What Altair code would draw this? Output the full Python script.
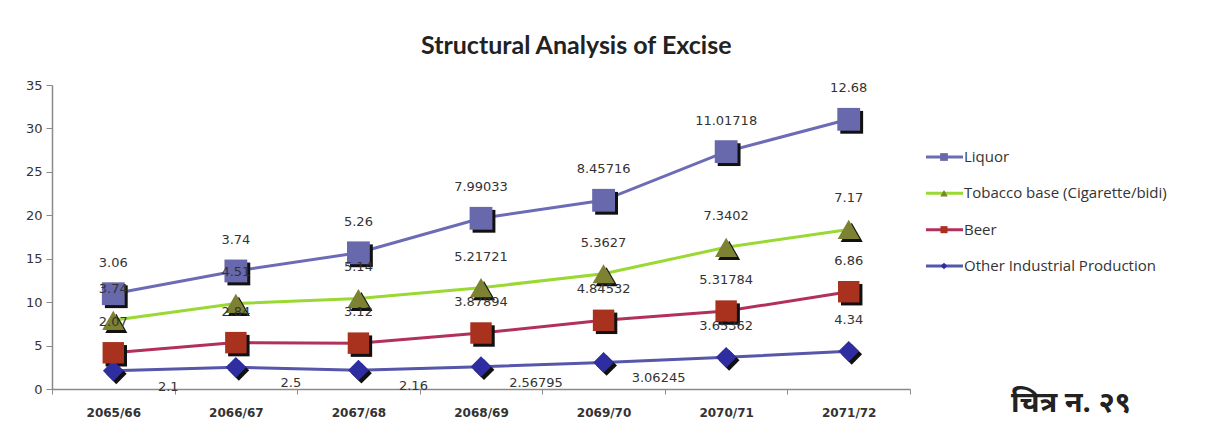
import altair as alt
import pandas as pd

years = ["2065/66", "2066/67", "2067/68", "2068/69", "2069/70", "2070/71", "2071/72"]
other = [2.1, 2.5, 2.16, 2.56795, 3.06245, 3.65362, 4.34]
beer = [2.07, 2.84, 3.12, 3.87894, 4.84532, 5.31784, 6.86]
tobacco = [3.74, 4.51, 5.14, 5.21721, 5.3627, 7.3402, 7.17]
liquor = [3.06, 3.74, 5.26, 7.99033, 8.45716, 11.01718, 12.68]

series_names = ["Other Industrial Production", "Beer", "Tobacco base (Cigarette/bidi)", "Liquor"]
series_values = [other, beer, tobacco, liquor]
legend_order = ["Liquor", "Tobacco base (Cigarette/bidi)", "Beer", "Other Industrial Production"]

line_colors = ["#5656AA", "#B2305C", "#9AD832", "#6C6CB6"]
marker_colors = ["#2E2EA2", "#A8321E", "#7C8232", "#6868AC"]
shapes = ["diamond", "square", "triangle-up", "square"]
caption = "चित्र न. २९"

PLOT_W = 858
STEP = PLOT_W / len(years)

rows = []
for si, (name, vals) in enumerate(zip(series_names, series_values)):
    for j, (yr, v) in enumerate(zip(years, vals)):
        rows.append({"year": yr, "series": name, "value": v, "label": str(v), "order": si, "idx": j})
df = pd.DataFrame(rows)

color_sc = alt.Scale(domain=series_names, range=line_colors)
fill_sc = alt.Scale(domain=series_names, range=marker_colors)
shape_sc = alt.Scale(domain=series_names, range=shapes)
size_sc = alt.Scale(domain=series_names, range=[430, 520, 470, 560])

base = alt.Chart(df).transform_stack(
    stack="value", groupby=["year"], as_=["y0", "y1"],
    sort=[alt.SortField("order", order="ascending")], offset="zero"
).encode(
    x=alt.X("year:N", sort=years, bandPosition=0.5,
            scale=alt.Scale(type="band", paddingInner=0, paddingOuter=0),
            axis=alt.Axis(title=None, tickBand="extent", labelAngle=0, labelFont="DejaVu Sans",
                          labelFontWeight="bold", labelFontSize=12, labelColor="#333333",
                          labelPadding=13, domainColor="#8a8a8a", domainWidth=1.5,
                          tickColor="#8a8a8a", tickSize=5, grid=False)),
    y=alt.Y("y1:Q", scale=alt.Scale(domain=[0, 35], nice=False),
            axis=alt.Axis(title=None, values=[0, 5, 10, 15, 20, 25, 30, 35], labelFont="DejaVu Sans",
                          labelFontSize=13, labelColor="#333333", domainColor="#8a8a8a", domainWidth=1.5,
                          tickColor="#8a8a8a", tickSize=6, labelPadding=4, grid=False)),
)

lines = base.mark_line(strokeWidth=3).encode(
    color=alt.Color("series:N", scale=color_sc, legend=None),
    detail="series:N",
)
shadow = base.mark_point(filled=True, opacity=1, color="#111111").encode(
    shape=alt.Shape("series:N", scale=shape_sc, legend=None),
    size=alt.Size("series:N", scale=size_sc, legend=None),
    xOffset=alt.value(STEP / 2 + 3),
    yOffset=alt.value(3),
)
markers = base.mark_point(filled=True, opacity=1).encode(
    shape=alt.Shape("series:N", scale=shape_sc, legend=None),
    size=alt.Size("series:N", scale=size_sc, legend=None),
    fill=alt.Fill("series:N", scale=fill_sc, legend=None),
)
labels_above = base.transform_filter(
    "!(datum.series == 'Other Industrial Production' && datum.idx < 5)"
).mark_text(font="DejaVu Sans", fontSize=13, color="#333333", dy=-31).encode(text="label:N")
labels_below = base.transform_filter(
    "datum.series == 'Other Industrial Production' && datum.idx < 5"
).mark_text(font="DejaVu Sans", fontSize=13, color="#333333", dx=55, dy=16).encode(text="label:N")

main = alt.layer(lines, shadow, markers, labels_above, labels_below).properties(width=PLOT_W, height=304)

leg_df = pd.DataFrame({"series": legend_order})
leg_y = alt.Y("series:N", sort=legend_order, axis=None,
              scale=alt.Scale(type="point", padding=0, range=[72, 181]))
leg_base = alt.Chart(leg_df).encode(y=leg_y)
leg_rule = leg_base.mark_rule(strokeWidth=3).encode(
    x=alt.value(3), x2=alt.value(40),
    color=alt.Color("series:N", scale=color_sc, legend=None),
)
leg_pt = leg_base.mark_point(filled=True, opacity=1).encode(
    x=alt.value(21),
    shape=alt.Shape("series:N", scale=shape_sc, legend=None),
    size=alt.Size("series:N", scale=alt.Scale(domain=series_names, range=[45, 60, 60, 70]), legend=None),
    fill=alt.Fill("series:N", scale=fill_sc, legend=None),
)
leg_txt = leg_base.mark_text(align="left", baseline="middle", font="Open Sans", fontSize=15,
                             color="#333333").encode(x=alt.value(41), text="series:N")
cap = alt.Chart(pd.DataFrame({"t": [caption]})).mark_text(
    font="Noto Sans Devanagari, Noto Sans, sans-serif", fontSize=29, fontWeight="bold", color="#222222"
).encode(x=alt.value(148), y=alt.value(318), text="t:N")

legend_panel = alt.layer(leg_rule, leg_pt, leg_txt, cap).properties(width=270, height=330)

chart = alt.hconcat(main, legend_panel, spacing=12).resolve_scale(
    color="independent", fill="independent", shape="independent", size="independent",
    x="independent", y="independent"
).properties(
    title=alt.TitleParams("Structural Analysis of Excise", font="Lato", fontSize=25,
                          fontWeight="bold", color="#222222", anchor="middle", dx=-33, offset=20),
    padding={"left": 17, "top": 26, "right": 5, "bottom": 5},
).configure_view(stroke=None).configure_concat(spacing=12)

chart.save("out.html", embed_options={"renderer": "svg", "actions": False})
